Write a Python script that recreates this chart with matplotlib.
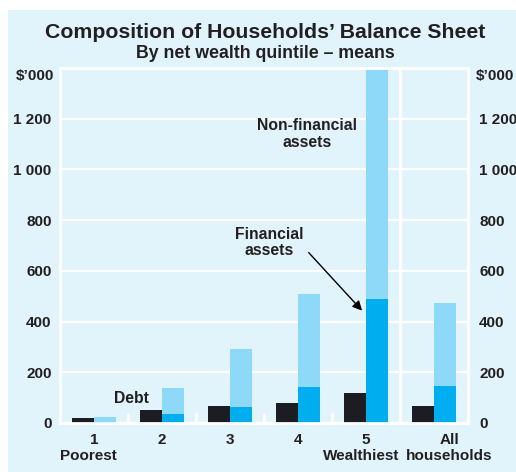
import matplotlib
matplotlib.use("Agg")
import matplotlib.pyplot as plt
from matplotlib.patches import Rectangle
from matplotlib.transforms import offset_copy
import numpy as np

plt.rcParams['font.family'] = ['Liberation Sans', 'DejaVu Sans']
plt.rcParams['font.weight'] = 'bold'

categories = ["1\nPoorest", "2", "3", "4", "5\nWealthiest", "All\nhouseholds"]
debt = [20, 51, 67, 79, 118, 67]
financial = [5, 36, 63, 142, 489, 146]
total_assets = [24, 138, 290, 510, 1450, 473]
nonfinancial = [t - f for t, f in zip(total_assets, financial)]
yticks = [0, 200, 400, 600, 800, 1000, 1200]
ytick_labels = ["0", "200", "400", "600", "800", "1 000", "1 200"]

c_debt = "#1c1d22"
c_fin = "#00aeef"
c_nonfin = "#8ed8f8"
c_bg = "#e1f3fb"
c_text = "#231f20"
fs = 11

W, H = 516, 472
fig = plt.figure(figsize=(W / 100, H / 100), dpi=100, facecolor="white")
fig.patches.append(Rectangle((8 / W, 0), 1 - 8 / W, 1 - 10 / H, transform=fig.transFigure,
                             facecolor=c_bg, edgecolor="none", zorder=-10))

ax = fig.add_axes([60 / W, 1 - 423 / H, 408 / W, 355 / H])
ax.set_facecolor(c_bg)
x = np.arange(len(categories))
bw = 0.33
ax.bar(x - bw / 2, debt, width=bw, color=c_debt, zorder=3)
ax.bar(x + bw / 2, financial, width=bw, color=c_fin, zorder=3)
ax.bar(x + bw / 2, nonfinancial, bottom=financial, width=bw, color=c_nonfin, zorder=3)

ax.set_xlim(-0.5, len(categories) - 0.5)
ax.set_ylim(0, 1400)
ax.set_yticks(yticks)
ax.set_yticklabels(ytick_labels)
ax.yaxis.grid(True, color="white", linewidth=1.6, zorder=1)
ax.set_axisbelow(True)
for s in ax.spines.values():
    s.set_color("white")
    s.set_linewidth(2)
    s.set_zorder(4)
ax.tick_params(axis="y", length=0, pad=6, labelsize=fs, labelcolor=c_text)
ax.set_xticks(x)
ax.set_xticklabels([])
ax.tick_params(axis="x", length=0)

# category labels (each line placed individually, as in the original)
xt = ax.get_xaxis_transform()
line_shift = {0: (-6, -6), 4: (0, -5), 5: (15, 15)}  # pixel shifts (first line, second line)
for i, lab in enumerate(categories):
    lines = lab.split("\n")
    shifts = line_shift.get(i, (0, 0))
    for j, ln in enumerate(lines):
        dx = shifts[j] if j < len(shifts) else 0
        if j == 0 and i == 0:
            dx = 0
        tr = offset_copy(xt, fig=fig, x=dx, y=-(17 + 16.5 * j), units="dots")
        ax.text(i, 0, ln, transform=tr, ha="center", va="center", fontsize=fs,
                color=c_text, clip_on=False)

ax.text(-0.015, 1370, "$\u2019000", transform=ax.get_yaxis_transform(), ha="right", va="center",
        fontsize=fs, color=c_text)
ax.text(1.02, 1370, "$\u2019000", transform=ax.get_yaxis_transform(), ha="left", va="center",
        fontsize=fs, color=c_text)

# separators
for sx in [0.5, 1.5, 2.5, 3.5]:
    ax.plot([sx, sx], [0, 40], color="white", linewidth=2, zorder=2, solid_capstyle="butt")
ax.axvline(4.5, color="white", linewidth=2, zorder=2)

ax2 = ax.twinx()
ax2.set_ylim(0, 1400)
ax2.set_yticks(yticks)
ax2.set_yticklabels(ytick_labels)
ax2.tick_params(axis="y", length=0, pad=8, labelsize=fs, labelcolor=c_text)
for s in ax2.spines.values():
    s.set_visible(False)

# annotations
ax.text(0.55, 95, "Debt", ha="center", va="center", fontsize=11.3, color=c_text, zorder=5)
ax.text(3.13, 1140, "Non-financial\nassets", ha="center", va="center", fontsize=11.3,
        color=c_text, linespacing=1.1, zorder=5)
ax.text(2.57, 712, "Financial\nassets", ha="center", va="center", fontsize=11.3,
        color=c_text, linespacing=1.1, zorder=5)
ax.annotate("", xy=(3.97, 435), xytext=(3.13, 680),
            arrowprops=dict(arrowstyle="-|>", color="black", lw=1, mutation_scale=14), zorder=5)

fig.text(265 / W, 1 - 32 / H, "Composition of Households\u2019 Balance Sheet", ha="center", va="center",
         fontsize=15.3, color=c_text)
fig.text(265 / W, 1 - 53 / H, "By net wealth quintile \u2013 means", ha="center", va="center",
         fontsize=12.8, color=c_text)

fig.savefig("out.png", dpi=100, facecolor="white")
